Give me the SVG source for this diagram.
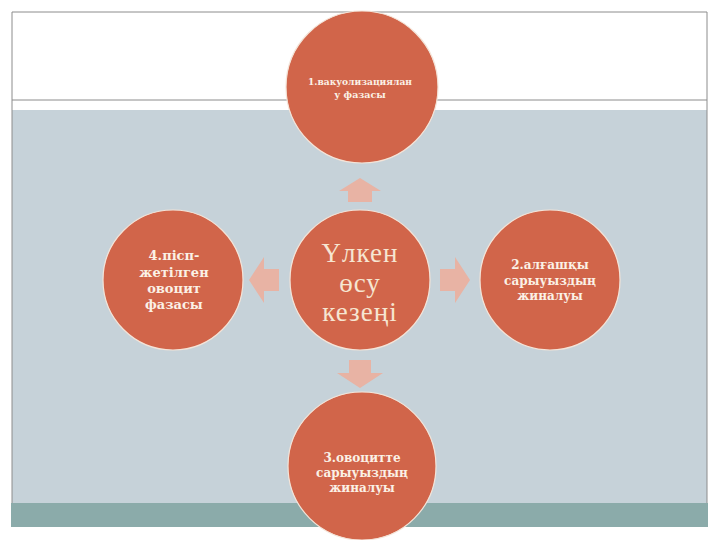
<svg xmlns="http://www.w3.org/2000/svg" width="720" height="540" viewBox="0 0 720 540">
<style>
.node{fill:#D1654A;stroke:#F4E4D8;stroke-width:1.2}
.arrow{fill:#E8B3A4}
.frame{stroke:#8C8C8C;stroke-width:1;fill:none}
.t{fill:#FBF1E6;text-anchor:middle;font-family:"DejaVu Serif","Liberation Serif",serif;font-weight:bold}
.c{fill:#F6E6D2;text-anchor:middle;font-family:"Liberation Serif","DejaVu Serif",serif;font-size:27px;letter-spacing:1px}
</style>
<rect x="0" y="0" width="720" height="540" fill="#FFFFFF"/>
<rect x="12" y="110" width="695" height="393" fill="#C6D2D9"/>
<rect x="11" y="503" width="697" height="24" fill="#8BABAA"/>
<line class="frame" x1="12" y1="12" x2="707" y2="12"/>
<line class="frame" x1="12" y1="100" x2="707" y2="100"/>
<line class="frame" x1="12" y1="12" x2="12" y2="503"/>
<line class="frame" x1="707" y1="12" x2="707" y2="503"/>
<g id="connectors">
<polygon class="arrow" points="360,178 381,191 372,191 372,202 348,202 348,191 339,191"/>
<polygon class="arrow" points="249,280 264,257 264,269 279,269 279,291 264,291 264,303"/>
<polygon class="arrow" points="470,280 455,257 455,269 440,269 440,291 455,291 455,303"/>
<polygon class="arrow" points="360,388 383,373 371,373 371,360 349,360 349,373 337,373"/>
</g>
<g id="node-top">
<circle class="node" cx="362" cy="87" r="76"/>
<text class="t" font-size="9.5" font-weight="normal"><tspan x="360" y="85" textLength="104" lengthAdjust="spacingAndGlyphs">1.вакуолизациялан</tspan><tspan x="360" y="98">у фазасы</tspan></text>
</g>
<g id="node-left">
<circle class="node" cx="173" cy="280" r="70"/>
<text class="t" font-size="13"><tspan x="174" y="260">4.пісп-</tspan><tspan x="174" y="277">жетілген</tspan><tspan x="174" y="293">овоцит</tspan><tspan x="174" y="309">фазасы</tspan></text>
</g>
<g id="node-right">
<circle class="node" cx="550" cy="280" r="70"/>
<text class="t" font-size="12"><tspan x="550" y="269">2.алғашқы</tspan><tspan x="550" y="285">сарыуыздың</tspan><tspan x="550" y="300">жиналуы</tspan></text>
</g>
<g id="node-bottom">
<circle class="node" cx="362" cy="466" r="74"/>
<text class="t" font-size="12"><tspan x="362" y="462">3.овоцитте</tspan><tspan x="362" y="477">сарыуыздың</tspan><tspan x="362" y="492">жиналуы</tspan></text>
</g>
<g id="node-center">
<circle class="node" cx="360" cy="280" r="70"/>
<text class="c"><tspan x="360" y="262">Үлкен</tspan><tspan x="360" y="292">өсу</tspan><tspan x="360" y="321">кезеңі</tspan></text>
</g>
</svg>
